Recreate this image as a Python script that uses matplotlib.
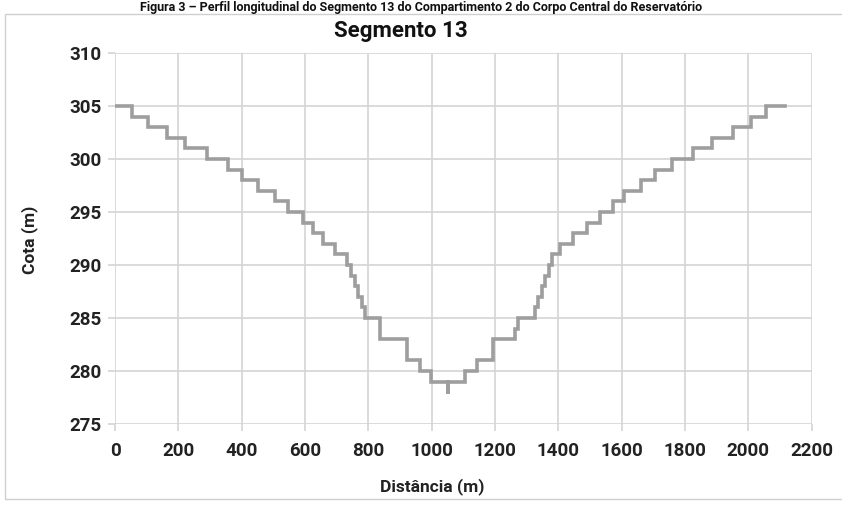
import matplotlib

matplotlib.use("Agg")
import matplotlib.pyplot as plt
from matplotlib.patches import Rectangle

# Perfil do segmento 13 (distância em m, cota em m).
distancia = [0, 53, 53, 105, 105, 164, 164, 221, 221, 290, 290, 357, 357, 401,
             401, 452, 452, 505, 505, 547, 547, 594, 594, 626, 626, 657, 657,
             695, 695, 733, 733, 745, 745, 757, 757, 768, 768, 779, 779, 790,
             790, 800, 800, 837, 837, 922, 922, 963, 963, 997, 997, 1052, 1052,
             1052, 1105, 1105, 1143, 1143, 1195, 1195, 1262, 1262, 1273, 1273,
             1325, 1325, 1336, 1336, 1347, 1347, 1358, 1358, 1369, 1369, 1380,
             1380, 1405, 1405, 1447, 1447, 1490, 1490, 1532, 1532, 1571, 1571,
             1606, 1606, 1660, 1660, 1706, 1706, 1758, 1758, 1826, 1826, 1885,
             1885, 1950, 1950, 2007, 2007, 2055, 2055, 2116]
cota = [305, 305, 304, 304, 303, 303, 302, 302, 301, 301, 300, 300, 299, 299,
        298, 298, 297, 297, 296, 296, 295, 295, 294, 294, 293, 293, 292,
        292, 291, 291, 290, 290, 289, 289, 288, 288, 287, 287, 286, 286,
        285, 285, 285, 285, 283, 283, 281, 281, 280, 280, 279, 279, 277.8,
        279, 279, 280, 280, 281, 281, 283, 283, 284, 284, 285,
        285, 286, 286, 287, 287, 288, 288, 289, 289, 290, 290,
        291, 291, 292, 292, 293, 293, 294, 294, 295, 295, 296,
        296, 297, 297, 298, 298, 299, 299, 300, 300, 301, 301,
        302, 302, 303, 303, 304, 304, 305, 305]

x_ticks = list(range(0, 2201, 200))
y_ticks = list(range(275, 311, 5))

COR_GRADE = "#d4d4d4"
COR_LINHA = "#9e9e9e"
FONTE = ["Roboto", "DejaVu Sans"]

fig = plt.figure(figsize=(8.42, 5.07), dpi=100)
ax = fig.add_axes([0.1366, 0.1637, 0.964 - 0.1366, 0.8955 - 0.1637])

ax.plot(distancia, cota, color=COR_LINHA, linewidth=2.6,
        solid_joinstyle="miter", zorder=3)

ax.set_xlim(0, 2200)
ax.set_ylim(275, 310)
ax.set_xticks(x_ticks)
ax.set_yticks(y_ticks)
ax.grid(True, color=COR_GRADE, linewidth=1.2, zorder=0)
for s in ax.spines.values():
    s.set_visible(False)
ax.tick_params(axis="both", length=5, width=1.2, color=COR_GRADE,
               labelsize=13.5, pad=5)
for lab in ax.get_xticklabels() + ax.get_yticklabels():
    lab.set_family(FONTE)
    lab.set_fontweight("bold")
    lab.set_color("#222222")
ax.tick_params(axis="x", pad=8)

fig.text(401 / 842, 1 - 31 / 507, "Segmento 13", fontsize=16, fontweight="bold",
         family=FONTE, color="#111111", ha="center", va="center")
fig.text(432 / 842, 1 - 487 / 507, "Distância (m)", fontsize=12.5,
         fontweight="bold", family=FONTE, color="#222222",
         ha="center", va="center")
fig.text(30 / 842, 1 - 240 / 507, "Cota (m)", fontsize=12.5, fontweight="bold",
         family=FONTE, color="#222222", ha="center", va="center", rotation=90)

# Moldura da área do gráfico e legenda da figura no topo da página.
fig.patches.append(Rectangle((0.006, 0.015), 1.2, 0.958, transform=fig.transFigure,
                             fill=False, edgecolor="#cfcfcf", linewidth=1.0))
fig.text(0.5, 0.999, "Figura 3 – Perfil longitudinal do Segmento 13 do "
         "Compartimento 2 do Corpo Central do Reservatório",
         fontsize=9, fontweight="bold", family=FONTE, color="#111111",
         va="top", ha="center")

fig.savefig("out.png", dpi=100, facecolor="white")
